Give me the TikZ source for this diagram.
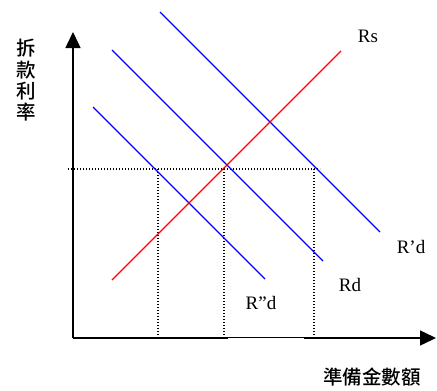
\documentclass[tikz,border=0pt]{standalone}
\usepackage{fontspec}
\setmainfont{Liberation Serif}
\newfontfamily\cjkfont{Noto Sans CJK TC Medium}
\usetikzlibrary{arrows.meta}
\tikzset{
  axisline/.style={line width=1.5pt,-{Triangle[length=16pt,width=15pt]}},
  demand/.style={blue,line width=1.2pt},
  supply/.style={red,line width=1.2pt},
  guide/.style={line width=1.1pt,dash pattern=on 1.1pt off 1.9pt},
  lbl/.style={font=\fontsize{19}{19}\selectfont,inner sep=0pt},
  cjk/.style={font=\cjkfont\fontsize{19.5}{19.5}\selectfont,inner sep=0pt}
}
\begin{document}
\begin{tikzpicture}[x=1pt,y=-1pt]
\useasboundingbox (0,0) rectangle (437,391);
% axes
\coordinate (O) at (73,338);
\coordinate (Ytip) at (73,32);
\coordinate (Xtip) at (436,338);
\draw[axisline] (O) -- (Ytip);
\draw[axisline] (O) -- (Xtip);
\fill[white] (228,338.2) rectangle (304,341);
% guide lines
\coordinate (H1) at (68,169);
\coordinate (H2) at (320,169);
\coordinate (V1t) at (158,169);
\coordinate (V1b) at (158,338);
\coordinate (V2t) at (224,169);
\coordinate (V2b) at (224,338);
\coordinate (V3t) at (314,169);
\coordinate (V3b) at (314,338);
\draw[guide] (H1) -- (H2);
\draw[guide] (V1t) -- (V1b);
\draw[guide] (V2t) -- (V2b);
\draw[guide] (V3t) -- (V3b);
% demand curves
\coordinate (D1a) at (93,107);
\coordinate (D1b) at (265,279);
\coordinate (D2a) at (112,50);
\coordinate (D2b) at (323,261);
\coordinate (D3a) at (160,12);
\coordinate (D3b) at (380,232);
\draw[demand] (D1a) -- (D1b);
\draw[demand] (D2a) -- (D2b);
\draw[demand] (D3a) -- (D3b);
% supply curve
\coordinate (Sa) at (112,280);
\coordinate (Sb) at (341,51);
\draw[supply] (Sa) -- (Sb);
% labels
\node[lbl] (Rs) at (368,36) {Rs};
\node[lbl] (Rpd) at (411,247) {R’d};
\node[lbl] (Rd) at (350,285) {Rd};
\node[lbl] (Rppd) at (261,303) {R”d};
\node[cjk] (xlab) at (372,377) {準備金數額};
\node[cjk] (y1) at (26,48) {拆};
\node[cjk] (y2) at (26,70) {款};
\node[cjk] (y3) at (26,91) {利};
\node[cjk] (y4) at (26,112) {率};
\end{tikzpicture}
\end{document}
